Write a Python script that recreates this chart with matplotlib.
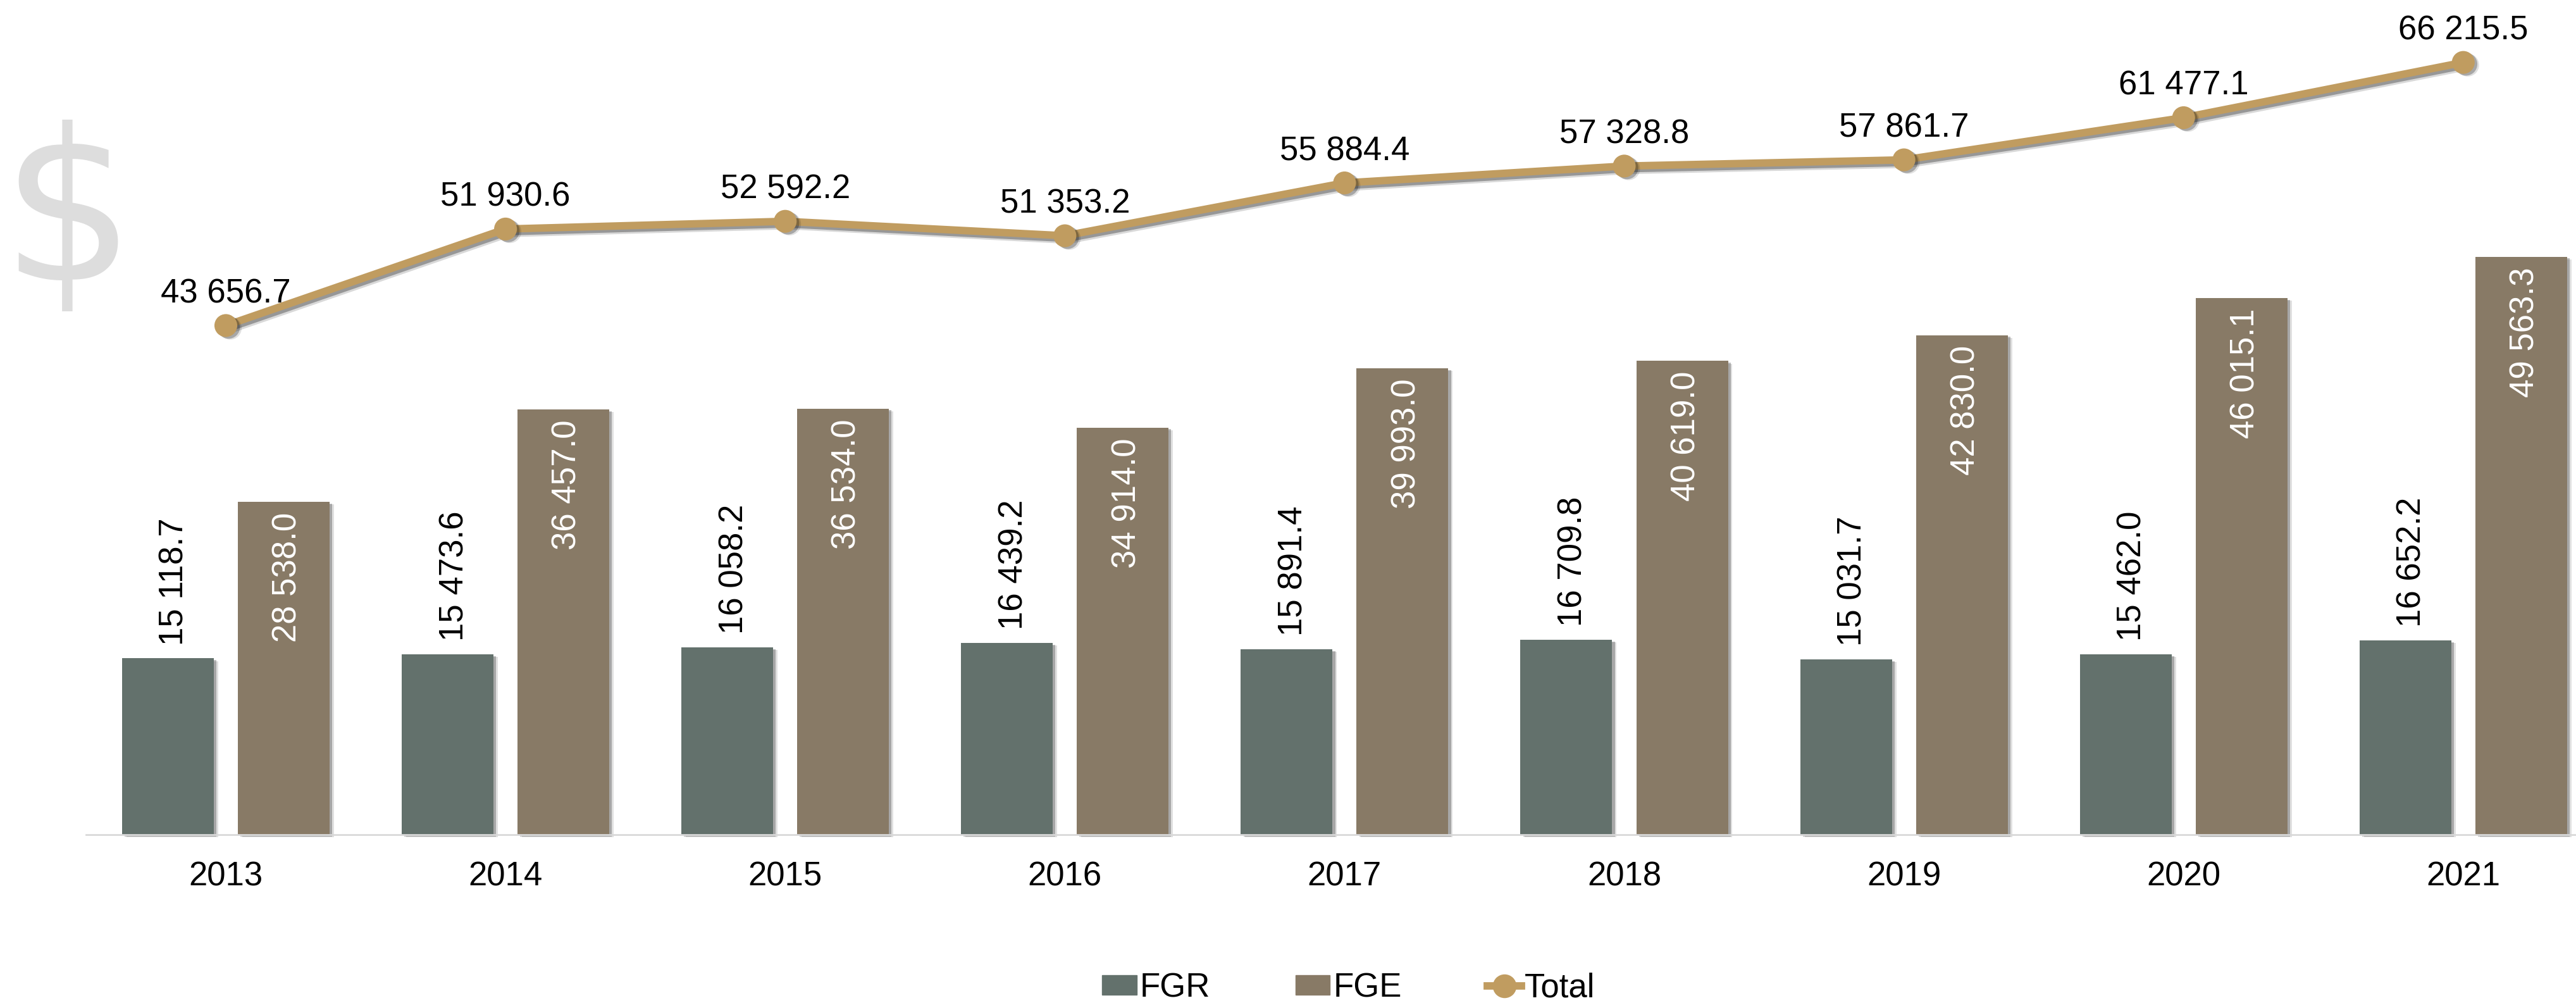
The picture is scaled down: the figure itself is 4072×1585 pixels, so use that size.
import matplotlib
matplotlib.use('Agg')
import matplotlib.pyplot as plt
import matplotlib.patheffects as pe
from matplotlib.lines import Line2D
from matplotlib.patches import Patch
import numpy as np

plt.rcParams['font.family'] = ['Liberation Sans', 'DejaVu Sans']

years = ['2013', '2014', '2015', '2016', '2017', '2018', '2019', '2020', '2021']
fgr = [15118.7, 15473.6, 16058.2, 16439.2, 15891.4, 16709.8, 15031.7, 15462.0, 16652.2]
fge = [28538.0, 36457.0, 36534.0, 34914.0, 39993.0, 40619.0, 42830.0, 46015.1, 49563.3]
total = [43656.7, 51930.6, 52592.2, 51353.2, 55884.4, 57328.8, 57861.7, 61477.1, 66215.5]

FGR_COLOR = '#63716C'
FGE_COLOR = '#887A66'
TOTAL_COLOR = '#C09C60'
FS = 38


def fmt(v):
    return f'{v:,.1f}'.replace(',', ' ')


def patch_shadow():
    # two offsets give a rough soft edge
    return [pe.SimplePatchShadow(offset=(5, -3), shadow_rgbFace='#000000', alpha=0.12),
            pe.SimplePatchShadow(offset=(3, -2), shadow_rgbFace='#000000', alpha=0.25),
            pe.Normal()]


def line_shadow():
    return [pe.SimpleLineShadow(offset=(4, -5), shadow_color='#000000', alpha=0.15),
            pe.SimpleLineShadow(offset=(2.5, -3), shadow_color='#000000', alpha=0.3),
            pe.Normal()]


fig = plt.figure(figsize=(40.72, 15.85), dpi=100)
ax = fig.add_axes([0, 0, 1, 1])
ax.patch.set_alpha(0)

x = np.arange(len(years))
bw = 0.328
off = 0.207
bars1 = ax.bar(x - off, fgr, bw, color=FGR_COLOR, zorder=2)
bars2 = ax.bar(x + off, fge, bw, color=FGE_COLOR, zorder=2)
for b in list(bars1) + list(bars2):
    b.set_path_effects(patch_shadow())

ax.plot(x, total, color=TOTAL_COLOR, lw=8.5, zorder=3, path_effects=line_shadow(),
        solid_capstyle='round')
ax.plot(x, total, ls='none', marker='o', ms=26, color=TOTAL_COLOR, mec=TOTAL_COLOR, mew=0,
        zorder=3, path_effects=patch_shadow())

# pixel layout: group 0 at 357, groups 442.1 apart, baseline at 1319, 0.01843 px per unit
px_x = 442.1
px_y = 0.01843
ax.set_xlim(-357 / px_x, (4072 - 357) / px_x)
ax.set_ylim(-(1585 - 1319) / px_y, 1319 / px_y)

for i in x:
    ax.annotate(fmt(fgr[i]), (i - off, fgr[i]), xytext=(7.5, 15), textcoords='offset points',
                rotation=90, ha='center', va='bottom', fontsize=FS, color='black', zorder=4)
    ax.annotate(fmt(fge[i]), (i + off, fge[i]), xytext=(4.5, -12), textcoords='offset points',
                rotation=90, ha='center', va='top', fontsize=FS, color='white', zorder=4)
    ax.annotate(fmt(total[i]), (i, total[i]), xytext=(0, 36), textcoords='offset points',
                ha='center', va='center', fontsize=FS, color='black', zorder=4)

for s in ['top', 'left', 'right']:
    ax.spines[s].set_visible(False)
ax.spines['bottom'].set_position(('data', 0))
ax.spines['bottom'].set_bounds(-0.5, 8.6)
ax.spines['bottom'].set_color('#D9D9D9')
ax.spines['bottom'].set_linewidth(2)
ax.yaxis.set_visible(False)
ax.set_xticks(x)
ax.set_xticklabels(years, fontsize=FS)
ax.tick_params(axis='x', length=0, pad=30)

# big dollar sign on the left
fig.text(107 / 4072, 1 - 350 / 1585, '$', fontsize=240, color='#DDDDDD', ha='center',
         va='center', parse_math=False, family='DejaVu Sans')

handles = [Patch(color=FGR_COLOR, label='FGR'),
           Patch(color=FGE_COLOR, label='FGE'),
           Line2D([], [], color=TOTAL_COLOR, lw=8.5, marker='o', ms=26, label='Total')]
fig.legend(handles=handles, loc='center', bbox_to_anchor=(2132 / 4072, 1 - 1561 / 1585),
           ncols=3, frameon=False, fontsize=FS, handlelength=1.03, handleheight=0.53,
           handletextpad=0.1, columnspacing=2.55, borderpad=0, borderaxespad=0)

fig.savefig('out.png', dpi=100, facecolor='white')
